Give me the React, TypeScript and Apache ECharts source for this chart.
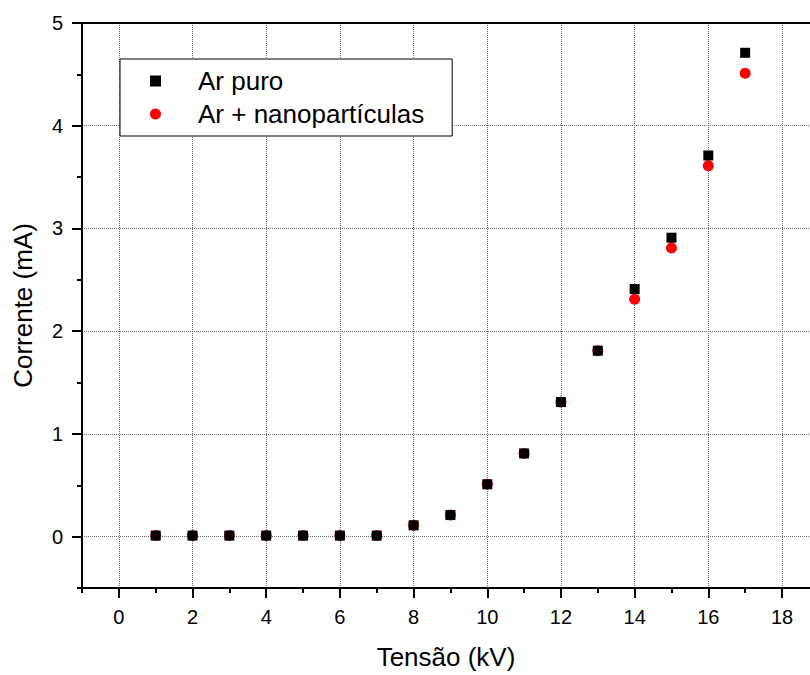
import React, { useEffect, useRef } from "react";
import * as echarts from "echarts";

const tensao = [1, 2, 3, 4, 5, 6, 7, 8, 9, 10, 11, 12, 13, 14, 15, 16, 17];
const arPuro = [0.01, 0.01, 0.01, 0.01, 0.01, 0.01, 0.01, 0.11, 0.21, 0.51, 0.81, 1.31, 1.81, 2.41, 2.91, 3.71, 4.71];
const arNano = [0.01, 0.01, 0.01, 0.01, 0.01, 0.01, 0.01, 0.11, 0.21, 0.51, 0.81, 1.31, 1.81, 2.31, 2.81, 3.61, 4.51];

const xMajorTicks = [0, 2, 4, 6, 8, 10, 12, 14, 16, 18];
const xMinorTicks = [-1, 1, 3, 5, 7, 9, 11, 13, 15, 17];
const yMajorTicks = [0, 1, 2, 3, 4, 5];
const yMinorTicks = [-0.5, 0.5, 1.5, 2.5, 3.5, 4.5];

const FONT = "'Liberation Sans', Arial, Helvetica, sans-serif";

export default function App() {
  const ref = useRef<HTMLDivElement>(null);
  useEffect(() => {
    if (!ref.current) return;
    const chart = echarts.init(ref.current, undefined, { renderer: "svg" });
    const gridLine = { show: true, lineStyle: { color: "#6e6e6e", width: 1, type: "dotted" as const } };
    const axisLine = { show: true, onZero: false, lineStyle: { color: "#000", width: 2 } };
    const xBase = { type: "value" as const, min: -1, max: 18.76, interval: 1, gridIndex: 0 };
    const yBase = { type: "value" as const, min: -0.5, max: 5, gridIndex: 0 };
    chart.setOption({
      animation: false,
      backgroundColor: "#fff",
      textStyle: { fontFamily: FONT },
      grid: { left: 82, right: 0, top: 23, bottom: 84, containLabel: false },
      legend: {
        data: [
          { name: "Ar puro", icon: "rect" },
          { name: "Ar + nanopartículas", icon: "circle" },
        ],
        orient: "vertical",
        left: 120,
        top: 59,
        itemWidth: 11,
        itemHeight: 11,
        itemGap: 5,
        padding: [8, 28, 8, 30],
        borderColor: "#000",
        borderWidth: 1,
        backgroundColor: "#fff",
        textStyle: { fontSize: 26, lineHeight: 28, color: "#000", fontFamily: FONT, padding: [0, 0, 0, 32] },
      },
      xAxis: [
        {
          ...xBase,
          position: "bottom",
          name: "Tensão (kV)",
          nameLocation: "middle",
          nameGap: 56,
          nameTextStyle: { fontSize: 26, color: "#000", fontFamily: FONT },
          axisLine,
          axisTick: { show: true, inside: false, length: 10, lineStyle: { color: "#000", width: 2 }, customValues: xMajorTicks },
          axisLabel: { show: true, fontSize: 20, color: "#000", margin: 19, fontFamily: FONT, customValues: xMajorTicks },
          splitLine: gridLine,
        },
        {
          ...xBase,
          position: "bottom",
          axisLine: { show: false, onZero: false },
          axisTick: { show: true, inside: false, length: 5, lineStyle: { color: "#000", width: 2 }, customValues: xMinorTicks },
          axisLabel: { show: false },
          splitLine: { show: false },
        },
        {
          ...xBase,
          position: "top",
          axisLine,
          axisTick: { show: false },
          axisLabel: { show: false },
          splitLine: { show: false },
        },
      ],
      yAxis: [
        {
          ...yBase,
          splitNumber: 5,
          position: "left",
          name: "Corrente (mA)",
          nameLocation: "middle",
          nameGap: 46,
          nameTextStyle: { fontSize: 26, color: "#000", fontFamily: FONT },
          axisLine,
          axisTick: { show: true, inside: false, length: 10, lineStyle: { color: "#000", width: 2 }, customValues: yMajorTicks },
          axisLabel: { show: true, fontSize: 20, color: "#000", margin: 19, fontFamily: FONT, customValues: yMajorTicks },
          splitLine: gridLine,
        },
        {
          ...yBase,
          splitNumber: 5,
          position: "left",
          axisLine: { show: false, onZero: false },
          axisTick: { show: true, inside: false, length: 5, lineStyle: { color: "#000", width: 2 }, customValues: yMinorTicks },
          axisLabel: { show: false },
          splitLine: { show: false },
        },
      ],
      series: [
        {
          name: "Ar + nanopartículas",
          type: "scatter",
          xAxisIndex: 0,
          yAxisIndex: 0,
          symbol: "circle",
          symbolSize: 11,
          itemStyle: { color: "#ff0000", opacity: 1 },
          data: tensao.map((x, i) => [x, arNano[i]]),
          z: 2,
        },
        {
          name: "Ar puro",
          type: "scatter",
          xAxisIndex: 0,
          yAxisIndex: 0,
          symbol: "rect",
          symbolSize: 10,
          itemStyle: { color: "#000000", opacity: 1 },
          data: tensao.map((x, i) => [x, arPuro[i]]),
          z: 3,
        },
      ],
    });
    return () => chart.dispose();
  }, []);
  return (
    <div
      ref={ref}
      style={{ position: "fixed", left: 0, top: 0, width: 810, height: 675, background: "#fff" }}
    />
  );
}
